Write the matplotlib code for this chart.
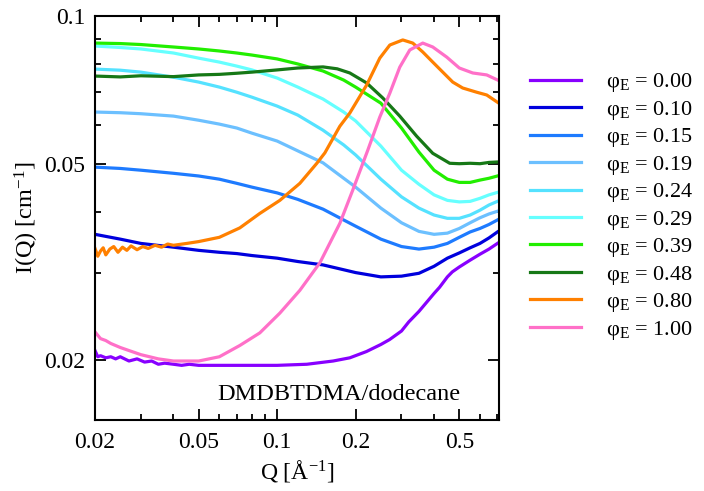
import matplotlib
matplotlib.use('Agg')
import matplotlib.pyplot as plt
from matplotlib.ticker import FixedLocator, NullFormatter

plt.rcParams['font.family'] = ['Liberation Serif', 'DejaVu Serif']
plt.rcParams['mathtext.fontset'] = 'custom'
plt.rcParams['mathtext.rm'] = 'Liberation Serif'
plt.rcParams['mathtext.it'] = 'Liberation Serif:italic'

# common Q grid (A^-1)
q = [0.02, 0.025, 0.03, 0.04, 0.05, 0.06, 0.07, 0.08, 0.1, 0.12, 0.15, 0.18,
     0.2, 0.25, 0.3, 0.35, 0.4, 0.45, 0.5, 0.55, 0.6, 0.65, 0.7]

# phi = 0.00
q_000 = [0.020, 0.0205, 0.021, 0.022, 0.023, 0.024, 0.025, 0.027, 0.029, 0.031, 0.033,
         0.035, 0.037, 0.040, 0.043, 0.046, 0.05, 0.07, 0.1, 0.13, 0.164, 0.19, 0.22, 0.25, 0.27, 0.3,
         0.32, 0.35, 0.4, 0.42, 0.45, 0.47, 0.5, 0.55, 0.6, 0.65, 0.7]
i_000 = [0.0209, 0.0203, 0.0204, 0.0202, 0.0203, 0.0201, 0.0203, 0.0199, 0.0201, 0.0198, 0.0199,
         0.0196, 0.0197, 0.0196, 0.0195, 0.0196, 0.0195, 0.0195, 0.0195, 0.0196, 0.0199, 0.0202, 0.0208, 0.0215, 0.0220, 0.0229,
         0.0239, 0.0251, 0.0273, 0.0281, 0.0295, 0.0302, 0.0309, 0.0319, 0.0328, 0.0336, 0.0345]

i_010 = [0.0360, 0.0352, 0.0345, 0.0339, 0.0334, 0.0331, 0.0329, 0.0326, 0.0322, 0.0317, 0.0312, 0.0305,
         0.0301, 0.0295, 0.0296, 0.0300, 0.0310, 0.0322, 0.0330, 0.0338, 0.0345, 0.0354, 0.0364]
i_015 = [0.0493, 0.0490, 0.0486, 0.0479, 0.0473, 0.0466, 0.0457, 0.0449, 0.0437, 0.0424, 0.0405, 0.0385,
         0.0374, 0.0352, 0.0340, 0.0336, 0.0339, 0.0345, 0.0355, 0.0364, 0.0370, 0.0377, 0.0385]
i_019 = [0.0638, 0.0636, 0.0633, 0.0626, 0.0614, 0.0603, 0.0592, 0.0578, 0.0557, 0.0532, 0.0503, 0.0468,
         0.0449, 0.0407, 0.0380, 0.0365, 0.0360, 0.0362, 0.0370, 0.0380, 0.0389, 0.0396, 0.0401]
i_024 = [0.0780, 0.0776, 0.0769, 0.0751, 0.0734, 0.0717, 0.0700, 0.0684, 0.0656, 0.0629, 0.0586, 0.0547,
         0.0522, 0.0466, 0.0429, 0.0407, 0.0394, 0.0388, 0.0388, 0.0394, 0.0403, 0.0413, 0.0420]
i_029 = [0.0869, 0.0863, 0.0857, 0.0841, 0.0821, 0.0806, 0.0791, 0.0777, 0.0748, 0.0717, 0.0678, 0.0638,
         0.0612, 0.0544, 0.0486, 0.0455, 0.0433, 0.0422, 0.0419, 0.0420, 0.0426, 0.0433, 0.0438]
i_039 = [0.0881, 0.0879, 0.0875, 0.0865, 0.0857, 0.0849, 0.0841, 0.0833, 0.0818, 0.0799, 0.0773, 0.0741,
         0.0717, 0.0665, 0.0592, 0.0529, 0.0486, 0.0466, 0.0459, 0.0459, 0.0464, 0.0468, 0.0473]

# phi = 0.48
q_048 = [0.02, 0.025, 0.03, 0.04, 0.05, 0.06, 0.07, 0.08, 0.1, 0.12, 0.15, 0.17, 0.19,
         0.2205, 0.2546, 0.2954, 0.3428, 0.3954, 0.4594, 0.5, 0.55, 0.6, 0.65, 0.7]
i_048 = [0.0755, 0.0752, 0.0756, 0.0753, 0.0759, 0.0761, 0.0765, 0.0769, 0.0777, 0.0784, 0.0788, 0.0781, 0.0766,
         0.0731, 0.0681, 0.0626, 0.0570, 0.0526, 0.0502, 0.0501, 0.0502, 0.0501, 0.0504, 0.0505]

# phi = 0.80
q_080 = [0.0200, 0.0205, 0.0210, 0.0215, 0.0220, 0.0228, 0.0236, 0.0245, 0.0255, 0.0265, 0.0275,
         0.0290, 0.0305, 0.0320, 0.0340, 0.0360, 0.0380, 0.0400, 0.045, 0.05, 0.06, 0.0719, 0.0858,
         0.1024, 0.1222, 0.142, 0.1524, 0.174, 0.19, 0.2205, 0.2476, 0.2706, 0.3034, 0.3314, 0.362,
         0.3954, 0.432, 0.4718, 0.515, 0.583, 0.637, 0.70]
i_080 = [0.0337, 0.0325, 0.0333, 0.0338, 0.0327, 0.0336, 0.0340, 0.0331, 0.0339, 0.0334, 0.0341,
         0.0335, 0.0340, 0.0337, 0.0342, 0.0339, 0.0344, 0.0342, 0.0345, 0.0348, 0.0355, 0.0371, 0.0397,
         0.0422, 0.0457, 0.0502, 0.0527, 0.0597, 0.0635, 0.0724, 0.0821, 0.0873, 0.0894, 0.0881, 0.0845,
         0.0806, 0.0769, 0.0734, 0.0714, 0.0700, 0.0691, 0.0668]

# phi = 1.00
q_100 = [0.020, 0.021, 0.022, 0.023, 0.025, 0.027, 0.03, 0.035, 0.04, 0.05, 0.06, 0.0719, 0.0858,
         0.1024, 0.1222, 0.1458, 0.174, 0.1951, 0.2228, 0.2476, 0.2706, 0.2954, 0.3228, 0.362,
         0.3954, 0.4474, 0.5, 0.5629, 0.637, 0.7018]
i_100 = [0.0228, 0.0221, 0.0219, 0.0216, 0.0212, 0.0209, 0.0205, 0.0201, 0.0199, 0.0199, 0.0203, 0.0214, 0.0227,
         0.0249, 0.0277, 0.0315, 0.0379, 0.0443, 0.0534, 0.0623, 0.0697, 0.0787, 0.0853, 0.0881,
         0.0865, 0.0825, 0.0784, 0.0766, 0.0759, 0.0741]

labels = ['0.00', '0.10', '0.15', '0.19', '0.24', '0.29', '0.39', '0.48', '0.80', '1.00']
colors = ['#8800ff', '#0000dd', '#1e7bff', '#6cc0ff', '#55e2ff', '#66ffff',
          '#22ee00', '#167816', '#ff8000', '#ff70c8']
xs = [q_000, q, q, q, q, q, q, q_048, q_080, q_100]
ys = [i_000, i_010, i_015, i_019, i_024, i_029, i_039, i_048, i_080, i_100]

fig = plt.figure(figsize=(7.04, 4.91), dpi=100)
ax = fig.add_axes([95/704, 1-420/491, 404/704, 404/491])

for x, y, lab, c in zip(xs, ys, labels, colors):
    ax.plot(x, y, color=c, lw=2.3, label='φ$_{\\mathrm{E}}$ = ' + lab)

ax.set_xscale('log')
ax.set_yscale('log')
ax.set_xlim(0.02, 0.71)
ax.set_ylim(0.0151, 0.1)

ax.xaxis.set_major_locator(FixedLocator([0.02, 0.05, 0.1, 0.2, 0.5]))
ax.xaxis.set_minor_locator(FixedLocator([0.03, 0.04, 0.06, 0.07, 0.08, 0.09, 0.3, 0.4, 0.6, 0.7]))
ax.set_xticklabels(['0.02', '0.05', '0.1', '0.2', '0.5'])
ax.xaxis.set_minor_formatter(NullFormatter())
ax.yaxis.set_major_locator(FixedLocator([0.02, 0.05, 0.1]))
ax.yaxis.set_minor_locator(FixedLocator([0.03, 0.04, 0.06, 0.07, 0.08, 0.09]))
ax.set_yticklabels(['0.02', '0.05', '0.1'])
ax.yaxis.set_minor_formatter(NullFormatter())

ax.tick_params(which='both', direction='in', top=True, right=True, width=1.3, labelsize=17)
ax.tick_params(which='major', length=8, pad=7)
ax.tick_params(which='minor', length=4.5)
ax.tick_params(axis='x', which='major', pad=9)
for s in ax.spines.values():
    s.set_linewidth(1.5)

ax.set_xlabel('Q [Å$^{\\mathrm{-1}}$]', fontsize=17, labelpad=3)
ax.set_ylabel('I(Q) [cm$^{\\mathrm{-1}}$]', fontsize=17.5, labelpad=2)

fig.text(217/704, 1-395/491, 'DMDBTDMA/dodecane', fontsize=17.5, va='center', ha='left')

fig.legend(loc='center left', bbox_to_anchor=(530/704, 1-206.5/491), frameon=False,
           fontsize=16, handlelength=2.3, handletextpad=1.1, labelspacing=0.2,
           borderpad=0, borderaxespad=0)

plt.savefig('out.png', dpi=100)
